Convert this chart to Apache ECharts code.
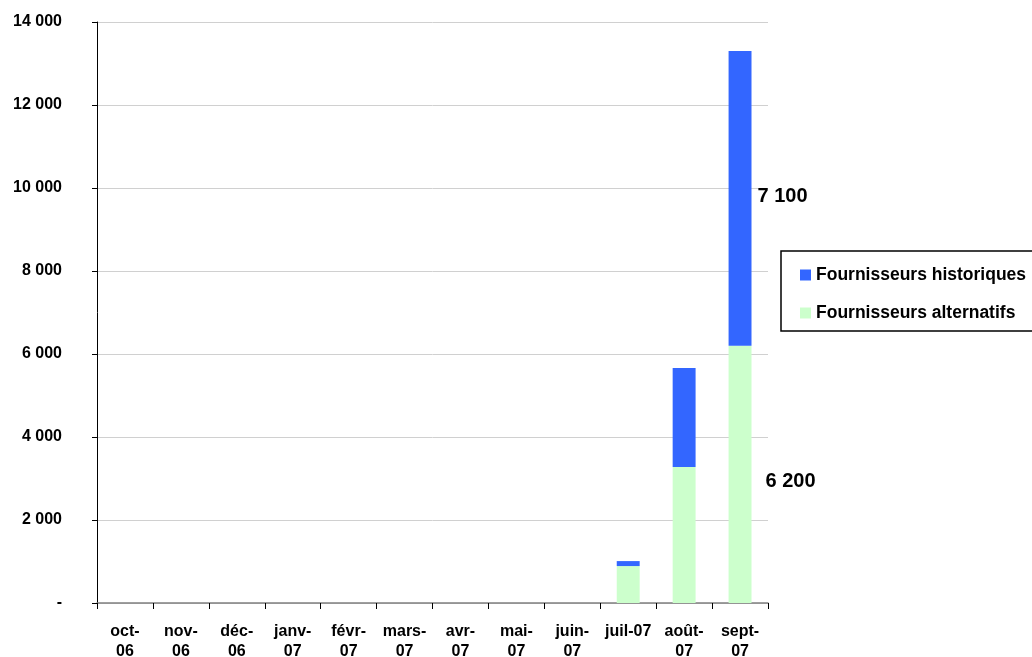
<!DOCTYPE html>
<html><head><meta charset="utf-8">
<script src="https://cdn.jsdelivr.net/npm/echarts@6/dist/echarts.min.js"></script>
<style>html,body{margin:0;padding:0;background:#fff}#c{width:1032px;height:657px}</style>
</head><body><div id="c"></div>
<script>
var categories = ['oct-\n06','nov-\n06','déc-\n06','janv-\n07','févr-\n07','mars-\n07','avr-\n07','mai-\n07','juin-\n07','juil-07','août-\n07','sept-\n07'];
var alternatifs = [0,0,0,0,0,0,0,0,0,890,3280,6200];
var historiques = [0,0,0,0,0,0,0,0,0,120,2380,7100];
var yTicks = [0,2000,4000,6000,8000,10000,12000,14000];

function fmt(v){ if(v===0) return '-'; return String(v).replace(/\B(?=(\d{3})+(?!\d))/g,' '); }
var FONT = 'Liberation Sans, Arial, sans-serif';
function withLabel(arr, dist, off){
  return arr.map(function(v,i){
    if(i===arr.length-1){
      return {value:v, label:{show:true, position:'right', distance:dist, offset:off, formatter:function(p){return fmt(p.value);}, fontFamily:FONT, fontWeight:'bold', fontSize:20, color:'#000'}};
    }
    return v;
  });
}
var chart = echarts.init(document.getElementById('c'), null, {renderer:'canvas'});
chart.setOption({
  animation:false,
  grid:{left:97, top:22, right:264, bottom:54, containLabel:false, outerBoundsMode:'none'},
  legend:{
    orient:'vertical', left:781, top:251,
    padding:[15,30,9,19], itemGap:20,
    borderColor:'#000', borderWidth:1.5,
    itemWidth:11, itemHeight:11, icon:'rect',
    textStyle:{fontFamily:FONT, fontWeight:'bold', fontSize:17.5, color:'#000'},
    data:['Fournisseurs historiques','Fournisseurs alternatifs']
  },
  xAxis:{
    type:'category', data:categories,
    axisLine:{lineStyle:{color:'#808080', width:1.5}},
    axisTick:{show:true, alignWithLabel:false, length:6, lineStyle:{color:'#000'}},
    axisLabel:{interval:0, fontFamily:FONT, fontWeight:'bold', fontSize:16, color:'#000', margin:19, lineHeight:20}
  },
  yAxis:{
    type:'value', min:0, max:14000, interval:2000,
    axisLine:{show:true, lineStyle:{color:'#000', width:1}},
    axisTick:{show:true, inside:false, length:5, lineStyle:{color:'#000'}},
    splitLine:{show:true, lineStyle:{color:'#d0d0d0', width:1}},
    axisLabel:{formatter:function(v){return yTicks.indexOf(v)>=0?fmt(v):'';}, fontFamily:FONT, fontWeight:'bold', fontSize:16, color:'#000', margin:35}
  },
  series:[
    {name:'Fournisseurs alternatifs', type:'bar', stack:'s', barWidth:'41%', itemStyle:{color:'#CCFFCC'}, data:withLabel(alternatifs,14,[0,7])},
    {name:'Fournisseurs historiques', type:'bar', stack:'s', barWidth:'41%', itemStyle:{color:'#3366FF'}, data:withLabel(historiques,6,[0,-2])}
  ]
});
</script></body></html>
